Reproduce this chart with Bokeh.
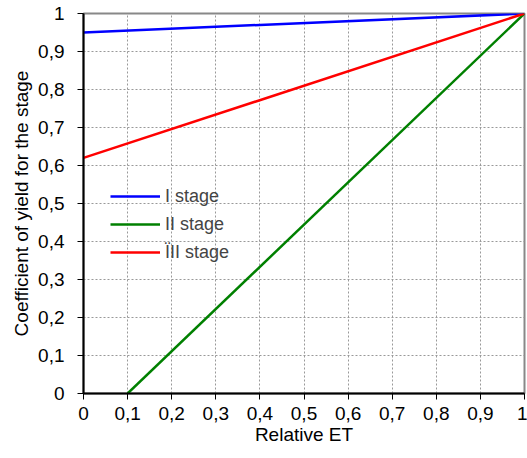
from bokeh.plotting import figure
from bokeh.models import FixedTicker, CustomJSTickFormatter, Legend, LegendItem, Range1d
from bokeh.embed import file_html
from bokeh.resources import INLINE

ticks = [0, 0.1, 0.2, 0.3, 0.4, 0.5, 0.6, 0.7, 0.8, 0.9, 1]

x_stage1 = [0, 1]
y_stage1 = [0.95, 1.0]
x_stage2 = [0.1, 1]
y_stage2 = [0.0, 1.0]
x_stage3 = [0, 1]
y_stage3 = [0.62, 1.0]

labels = ["I stage", "II stage", "ÏII stage"]
colors = ["#0000ff", "#008000", "#ff0000"]

p = figure(width=527, height=458, output_backend="svg", toolbar_location=None,
           x_range=Range1d(0, 1), y_range=Range1d(0, 1),
           min_border_left=83, min_border_right=3, min_border_top=13, min_border_bottom=65)

FONT = "Liberation Sans"
FS = "19px"

r1 = p.line(x_stage1, y_stage1, line_color=colors[0], line_width=2.5)
r2 = p.line(x_stage2, y_stage2, line_color=colors[1], line_width=2.5)
r3 = p.line(x_stage3, y_stage3, line_color=colors[2], line_width=2.5)

fmt = CustomJSTickFormatter(code="""
var s = tick.toFixed(1).replace('.', ',');
if (s.endsWith(',0')) s = s.slice(0, -2);
return s;
""")

for ax in (p.xaxis[0], p.yaxis[0]):
    ax.ticker = FixedTicker(ticks=ticks)
    ax.formatter = fmt
    ax.axis_line_color = "black"
    ax.axis_line_width = 2
    ax.major_tick_line_color = "black"
    ax.major_tick_line_width = 1
    ax.major_tick_out = 6
    ax.major_tick_in = 0
    ax.minor_tick_line_color = None
    ax.major_label_text_font = FONT
    ax.major_label_text_font_size = FS
    ax.major_label_text_color = "black"
    ax.axis_label_text_font = FONT
    ax.axis_label_text_font_size = FS
    ax.axis_label_text_font_style = "normal"
    ax.axis_label_text_color = "black"

p.xaxis.axis_label = "Relative ET"
p.yaxis.axis_label = "Coefficient of yield for the stage"
p.xaxis.major_label_standoff = 7
p.yaxis.major_label_standoff = 13
p.xaxis.axis_label_standoff = 1
p.yaxis.axis_label_standoff = 3

for g in (p.xgrid[0], p.ygrid[0]):
    g.ticker = FixedTicker(ticks=ticks)
    g.grid_line_color = "#999999"
    g.grid_line_dash = "2 2"
    g.grid_line_width = 1

p.outline_line_color = "#888888"
p.outline_line_width = 2
p.background_fill_color = "white"
p.border_fill_color = "white"

legend = Legend(items=[LegendItem(label=labels[0], renderers=[r1]),
                       LegendItem(label=labels[1], renderers=[r2]),
                       LegendItem(label=labels[2], renderers=[r3])],
                location=(27, 130), glyph_width=50, glyph_height=22, label_height=22,
                spacing=6, padding=0, margin=0, label_standoff=5,
                background_fill_alpha=0, border_line_color=None,
                label_text_font=FONT, label_text_font_size="18px")
p.add_layout(legend, "center")

open("out.html", "w").write(file_html(p, INLINE))
